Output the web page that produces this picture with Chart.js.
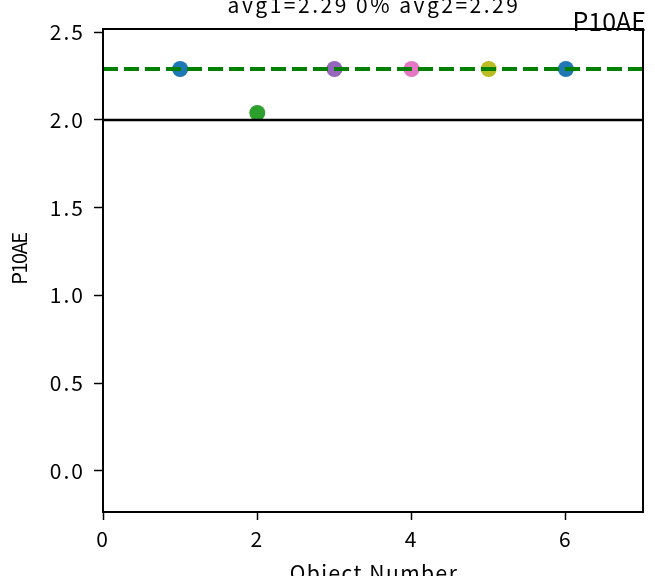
<!DOCTYPE html>
<html lang="en">
<head>
    <meta charset="UTF-8">
    <title>P10AE</title>
    <script src="https://cdn.jsdelivr.net/npm/chart.js"></script>
    <style>
        html, body { margin: 0; padding: 0; background: #fff; }
        canvas { display: block; }
    </style>
</head>
<body>
    <canvas id="chart" width="655" height="576"></canvas>
    <script>
        // data
        const objectNumbers = [1, 2, 3, 4, 5, 6];
        const p10aeValues = [2.29, 2.04, 2.29, 2.29, 2.29, 2.29];
        const pointColors = ['#1f77b4', '#2ca02c', '#9467bd', '#e377c2', '#bcbd22', '#1f77b4'];
        const avgValue = 2.29;
        const refValue = 2.0;
        const xRange = [0, 7];
        const yRange = [-0.234, 2.518];
        const xTicks = [0, 2, 4, 6];
        const yTicks = [0, 0.5, 1.0, 1.5, 2.0, 2.5];
        const titleText = 'avg1=2.29 0% avg2=2.29';
        const cornerText = 'P10AE';
        const xLabel = 'Object Number';
        const yLabel = 'P10AE';

        const FONT = '"Noto Sans CJK JP", "Noto Sans", sans-serif';

        // frame + text drawn on top of the chart
        const decorations = {
            id: 'decorations',
            beforeDraw(chart) {
                // the original font is wider-spaced, so loosen tick labels a bit
                chart.ctx.letterSpacing = '2px';
            },
            afterDraw(chart) {
                const ctx = chart.ctx;
                const a = chart.chartArea;
                ctx.save();
                ctx.strokeStyle = '#000';
                ctx.lineWidth = 2;
                ctx.strokeRect(a.left, a.top, a.right - a.left, a.bottom - a.top);

                ctx.fillStyle = '#000';
                ctx.textBaseline = 'alphabetic';

                ctx.letterSpacing = '2.5px';
                ctx.font = '21px ' + FONT;
                ctx.textAlign = 'center';
                ctx.fillText(titleText, (a.left + a.right) / 2 + 1, 13);

                ctx.letterSpacing = '1.5px';
                ctx.fillText(xLabel, (a.left + a.right) / 2 + 1, 581);

                ctx.letterSpacing = '-1.5px';
                ctx.font = '20px ' + FONT;
                ctx.save();
                ctx.translate(27, 259);
                ctx.rotate(-Math.PI / 2);
                ctx.fillText(yLabel, 0, 0);
                ctx.restore();

                ctx.letterSpacing = '0px';
                ctx.font = '25px ' + FONT;
                ctx.textAlign = 'right';
                ctx.fillText(cornerText, 646, 31);
                ctx.restore();
                ctx.letterSpacing = '0px';
            }
        };

        new Chart(document.getElementById('chart'), {
            data: {
                datasets: [
                    {
                        type: 'line',
                        data: xRange.map(x => ({ x: x, y: avgValue })),
                        borderColor: '#008000',
                        borderWidth: 4,
                        borderDash: [15, 6],
                        pointRadius: 0
                    },
                    {
                        type: 'line',
                        data: xRange.map(x => ({ x: x, y: refValue })),
                        borderColor: '#000',
                        borderWidth: 2.5,
                        pointRadius: 0
                    },
                    {
                        type: 'scatter',
                        data: objectNumbers.map((x, i) => ({ x: x, y: p10aeValues[i] })),
                        pointBackgroundColor: pointColors,
                        pointBorderWidth: 0,
                        pointRadius: 8
                    }
                ]
            },
            options: {
                responsive: false,
                animation: false,
                layout: { padding: { top: 29, right: 12, left: 0, bottom: 0 } },
                plugins: {
                    legend: { display: false },
                    tooltip: { enabled: false }
                },
                scales: {
                    x: {
                        type: 'linear',
                        min: xRange[0],
                        max: xRange[1],
                        afterBuildTicks: s => { s.ticks = xTicks.map(v => ({ value: v })); },
                        afterFit: s => { s.height = 64; },
                        grid: { drawOnChartArea: false, tickLength: 8, tickColor: '#000', tickWidth: 1.5 },
                        border: { color: '#000', width: 2 },
                        ticks: {
                            color: '#000',
                            font: { family: FONT, size: 21 },
                            padding: 6,
                            maxRotation: 0,
                            callback: v => String(v)
                        }
                    },
                    y: {
                        type: 'linear',
                        min: yRange[0],
                        max: yRange[1],
                        afterBuildTicks: s => { s.ticks = yTicks.map(v => ({ value: v })); },
                        afterFit: s => { s.width = 103; },
                        grid: { drawOnChartArea: false, tickLength: 9, tickColor: '#000', tickWidth: 1.5 },
                        border: { color: '#000', width: 2 },
                        ticks: {
                            color: '#000',
                            font: { family: FONT, size: 21 },
                            padding: 9,
                            callback: v => v.toFixed(1)
                        }
                    }
                }
            },
            plugins: [decorations]
        });
    </script>
</body>
</html>
